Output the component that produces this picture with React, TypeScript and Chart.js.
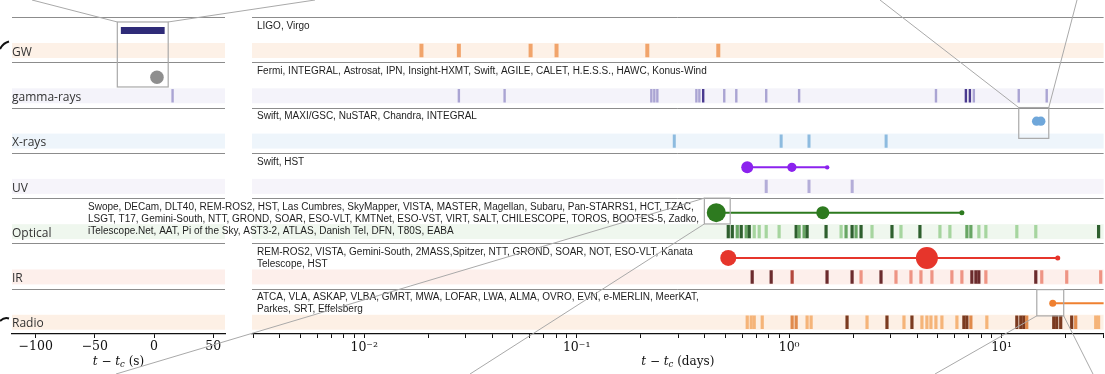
import React, { useEffect, useRef } from 'react';
import { Chart, registerables } from 'chart.js';

Chart.register(...registerables);

// ---------------- rows ----------------
const rowNames = ['GW', 'gamma-rays', 'X-rays', 'UV', 'Optical', 'IR', 'Radio'];
const rowInstruments: string[][] = [
  ['LIGO, Virgo'],
  ['Fermi, INTEGRAL, Astrosat, IPN, Insight-HXMT, Swift, AGILE, CALET, H.E.S.S., HAWC, Konus-Wind'],
  ['Swift, MAXI/GSC, NuSTAR, Chandra, INTEGRAL'],
  ['Swift, HST'],
  [
    'Swope, DECam, DLT40, REM-ROS2, HST, Las Cumbres, SkyMapper, VISTA, MASTER, Magellan, Subaru, Pan-STARRS1, HCT, TZAC,',
    'LSGT, T17, Gemini-South, NTT, GROND, SOAR, ESO-VLT, KMTNet, ESO-VST, VIRT, SALT, CHILESCOPE, TOROS, BOOTES-5, Zadko,',
    'iTelescope.Net, AAT, Pi of the Sky, AST3-2, ATLAS, Danish Tel, DFN, T80S, EABA',
  ],
  ['REM-ROS2, VISTA, Gemini-South, 2MASS,Spitzer, NTT, GROND, SOAR, NOT, ESO-VLT, Kanata', 'Telescope, HST'],
  ['ATCA, VLA, ASKAP, VLBA, GMRT, MWA, LOFAR, LWA, ALMA, OVRO, EVN, e-MERLIN, MeerKAT,', 'Parkes, SRT, Effelsberg'],
];
// horizontal start of each instrument block, relative to the right panel's left edge (px)
const rowTextShift = [5, 5, 5, 5, -164, 5, 5];
const bandColors = ['#fdf1e7', '#f4f3fa', '#eef5fb', '#f6f4fa', '#eff7ee', '#fdefeb', '#fdf0e5'];

// ---------------- observation epochs (days after t_c) & shade (0 light, 1 mid, 2 dark) ----------------
const gwDays = [0.0186, 0.0279, 0.0607, 0.0804, 0.215, 0.464];
const gwShade = [0, 0, 0, 0, 0, 0];

const gammaDays = [0.0279, 0.0458, 0.2246, 0.232, 0.2397, 0.366, 0.378, 0.394, 0.495, 0.564, 0.78, 1.114, 4.91, 6.79, 7.09, 7.4, 12.04, 16.3];
const gammaShade = [0, 0, 0, 0, 0, 0, 0, 2, 0, 0, 0, 0, 0, 2, 2, 0, 0, 0];

const xrayDays = [0.288, 0.917, 1.24, 2.86];
const xrayShade = [0, 0, 0, 0];

const uvDays = [0.78, 1.24, 1.98];
const uvShade = [0, 0, 0];

const optDays = [0.517, 0.54, 0.57, 0.595, 0.628, 0.649, 0.685, 0.723, 0.78, 0.897, 1.079, 1.114, 1.176, 1.215, 1.492, 1.756, 1.853, 1.978, 2.065, 2.18, 2.455, 3.048, 3.36, 4.126, 5.125, 5.709, 6.863, 7.166, 7.814, 8.43, 11.79, 14.48, 28.6];
const optShade = [2, 2, 1, 2, 1, 2, 0, 0, 0, 0, 2, 1, 1, 2, 2, 0, 1, 2, 1, 2, 0, 2, 0, 2, 0, 0, 1, 1, 0, 0, 0, 0, 2];

const irDays = [0.67, 0.823, 1.033, 1.508, 1.978, 2.18, 2.706, 3.183, 3.744, 4.172, 4.699, 5.834, 6.501, 7.244, 7.565, 7.814, 8.43, 14.48, 15.45, 20.25, 29.26];
const irShade = [2, 2, 1, 2, 2, 0, 2, 0, 0, 0, 0, 0, 0, 2, 2, 2, 0, 2, 0, 0, 0];

const radioDays = [0.635, 0.663, 0.685, 0.747, 1.033, 1.079, 1.215, 1.269, 1.873, 2.326, 2.887, 3.471, 3.784, 4.217, 4.45, 4.649, 4.907, 5.236, 6.16, 6.643, 6.863, 7.166, 8.52, 11.79, 12.31, 12.72, 13.13, 17.59, 18.17, 18.97, 21.37, 22.32, 27.72, 28.6];
const radioShade = [0, 0, 0, 0, 1, 1, 0, 0, 2, 0, 2, 0, 2, 0, 0, 0, 0, 0, 0, 2, 2, 1, 0, 2, 2, 2, 1, 2, 2, 2, 2, 1, 0, 0];

const markPalettes = [
  ['#f1a46b', '#f1a46b', '#f1a46b'],
  ['#aaa4d3', '#7d74ba', '#4a3a8f'],
  ['#8dbbdf', '#8dbbdf', '#8dbbdf'],
  ['#b4add8', '#b4add8', '#b4add8'],
  ['#a6d59f', '#68a664', '#2e5f2e'],
  ['#ee9484', '#b3473c', '#6b2b2d'],
  ['#f5b479', '#e08a4c', '#7b3a1f'],
];
const markWidths = [4, 2.4, 3, 3, 3.2, 3.2, 3.2];
const rowDays = [gwDays, gammaDays, xrayDays, uvDays, optDays, irDays, radioDays];
const rowShades = [gwShade, gammaShade, xrayShade, uvShade, optShade, irShade, radioShade];

// ---------------- light-curve style markers (days) ----------------
const uvMarkerDays = [0.635, 1.03, 1.51];
const uvMarkerSize = [6, 4.6, 2.2];
const optMarkerDays = [0.454, 1.44, 6.5];
const optMarkerSize = [9.5, 6.5, 2.5];
const irMarkerDays = [0.517, 4.45, 18.37];
const irMarkerSize = [8, 11, 2.5];
const radioMarkerDays = [17.4, 60];
const radioMarkerSize = [3.5, 0];
const xrayBlobDays = [14.6, 15.3];

// ---------------- left panel (seconds) ----------------
const gwSignalSec = [-28, 9];
const grbCircleSec = [2.5];
const gammaSec = [15.7];

// ---------------- axes ----------------
const DAY_MIN = 0.002965;
const DAY_MAX = 30.2;
const SEC_MIN = -120;
const SEC_MAX = 60;
const secTicks = [-100, -50, 0, 50];
const dayMajorTicks = [0.001, 0.01, 0.1, 1, 10];
const dayTickLabels = ['', '10\u207B\u00B2', '10\u207B\u00B9', '10\u2070', '10\u00B9'];

// inset boxes (data coordinates)
const leftInset = { x: [-31, 12], y: [0.11, 1.545] };
const xrayInset = { x: [12.04, 16.67], y: [2.0, 2.68] };
const optInset = { x: [0.399, 0.528], y: [4.0, 4.57] };
const radioInset = { x: [14.64, 19.6], y: [6.02, 6.6] };

const BAND_TOP = 0.575;
const BAND_BOTTOM = 0.905;
const MARK_Y = 0.74;
const MARKER_Y = 0.32;

const LINE_GREY = '#a9a9a9';

function markDatasets() {
  return rowDays.map((days, r) => ({
    type: 'scatter' as const,
    data: days.map((d) => ({ x: d, y: r + MARK_Y })),
    pointStyle: 'line',
    rotation: 90,
    pointRadius: 6.7,
    pointBorderWidth: markWidths[r],
    pointBorderColor: rowShades[r].map((s) => markPalettes[r][s]),
    pointBackgroundColor: rowShades[r].map((s) => markPalettes[r][s]),
  }));
}

function markerLine(days: number[], sizes: number[], row: number, color: string) {
  return {
    type: 'line' as const,
    data: days.map((d) => ({ x: d, y: row + MARKER_Y })),
    borderColor: color,
    borderWidth: 2,
    pointRadius: sizes,
    pointBackgroundColor: color,
    pointBorderWidth: 0,
    pointBorderColor: color,
    tension: 0,
  };
}

function drawBands(chart: any) {
  const { ctx, chartArea, scales } = chart;
  const y = scales.y;
  const { left, right } = chartArea;
  ctx.save();
  for (let i = 0; i < rowNames.length; i++) {
    const y1 = y.getPixelForValue(i + BAND_TOP);
    const y2 = y.getPixelForValue(i + BAND_BOTTOM);
    ctx.fillStyle = bandColors[i];
    ctx.fillRect(left, y1, right - left, y2 - y1);
  }
  ctx.strokeStyle = '#8c8c8c';
  ctx.lineWidth = 1;
  for (let i = 0; i < rowNames.length; i++) {
    const yy = Math.round(y.getPixelForValue(i)) + 0.5;
    ctx.beginPath();
    ctx.moveTo(left, yy);
    ctx.lineTo(right, yy);
    ctx.stroke();
  }
  ctx.restore();
}

function drawInstruments(chart: any) {
  const { ctx, chartArea, scales } = chart;
  const y = scales.y;
  ctx.save();
  ctx.fillStyle = '#1e1e1e';
  ctx.font = '10px "Liberation Sans", Arial, sans-serif';
  ctx.textBaseline = 'middle';
  ctx.textAlign = 'left';
  rowInstruments.forEach((lines, i) => {
    const top = y.getPixelForValue(i);
    lines.forEach((t, k) => ctx.fillText(t, chartArea.left + rowTextShift[i], top + 9 + k * 12));
  });
  ctx.restore();
}

function drawRowNames(chart: any) {
  const { ctx, chartArea, scales } = chart;
  const y = scales.y;
  ctx.save();
  ctx.fillStyle = '#333';
  ctx.font = '12px "Open Sans", sans-serif';
  ctx.textBaseline = 'middle';
  ctx.textAlign = 'left';
  rowNames.forEach((n, i) => ctx.fillText(n, chartArea.left, y.getPixelForValue(i + 0.78)));
  ctx.restore();
}

function drawAxisTitle(chart: any, unit: string) {
  const { ctx, chartArea } = chart;
  const cx = (chartArea.left + chartArea.right) / 2;
  const yy = 362;
  const parts: [string, string, number][] = [
    ['t', 'italic 12px "DejaVu Serif"', 0],
    [' \u2212 ', '12px "DejaVu Serif"', 0],
    ['t', 'italic 12px "DejaVu Serif"', 0],
    ['c', 'italic 8.5px "DejaVu Serif"', 3],
    [' (' + unit + ')', '12px "DejaVu Serif"', 0],
  ];
  ctx.save();
  ctx.fillStyle = '#111';
  ctx.textBaseline = 'middle';
  ctx.textAlign = 'left';
  let w = 0;
  parts.forEach(([t, f]) => {
    ctx.font = f;
    w += ctx.measureText(t).width;
  });
  let x = cx - w / 2;
  parts.forEach(([t, f, dy]) => {
    ctx.font = f;
    ctx.fillText(t, x, yy + dy);
    x += ctx.measureText(t).width;
  });
  ctx.restore();
}

function drawInset(chart: any, box: { x: number[]; y: number[] }, links: [number, number, number][]) {
  const { ctx, scales } = chart;
  const x1 = scales.x.getPixelForValue(box.x[0]);
  const x2 = scales.x.getPixelForValue(box.x[1]);
  const y1 = scales.y.getPixelForValue(box.y[0]);
  const y2 = scales.y.getPixelForValue(box.y[1]);
  const corners = [
    [x1, y1],
    [x2, y1],
    [x1, y2],
    [x2, y2],
  ];
  ctx.save();
  ctx.strokeStyle = LINE_GREY;
  ctx.lineWidth = 1.2;
  ctx.strokeRect(x1, y1, x2 - x1, y2 - y1);
  ctx.lineWidth = 1;
  links.forEach(([c, tx, ty]) => {
    const [cx, cy] = corners[c];
    ctx.beginPath();
    ctx.moveTo(cx, cy);
    ctx.lineTo(tx, ty);
    ctx.stroke();
  });
  ctx.restore();
}

function tickStyle() {
  return {
    display: true,
    drawOnChartArea: false,
    drawTicks: true,
    tickLength: 4,
    tickColor: '#111',
    tickWidth: 1,
  };
}

function rightConfig(): any {
  return {
    data: {
      datasets: [
        ...markDatasets(),
        markerLine(uvMarkerDays, uvMarkerSize, 3, '#8b22ee'),
        markerLine(optMarkerDays, optMarkerSize, 4, '#2d7a1f'),
        markerLine(irMarkerDays, irMarkerSize, 5, '#e6352b'),
        markerLine(radioMarkerDays, radioMarkerSize, 6, '#ef8030'),
        {
          type: 'scatter',
          data: xrayBlobDays.map((d) => ({ x: d, y: 2.3 })),
          pointRadius: 4.6,
          pointBackgroundColor: '#6fa7da',
          pointBorderWidth: 0,
        },
      ],
    },
    options: {
      responsive: false,
      animation: false,
      events: [],
      layout: { autoPadding: false, padding: { left: 252, right: 0, top: 17, bottom: 0 } },
      plugins: { legend: { display: false }, tooltip: { enabled: false } },
      scales: {
        x: {
          type: 'logarithmic',
          min: DAY_MIN,
          max: DAY_MAX,
          afterBuildTicks: (scale: any) => {
            const t: any[] = [];
            dayMajorTicks.forEach((base) => {
              for (let m = 1; m <= 9; m++) {
                const v = m * base;
                if (v >= DAY_MIN && v <= DAY_MAX) t.push({ value: v, major: m === 1 });
              }
            });
            scale.ticks = t;
          },
          afterFit: (scale: any) => {
            scale.height = 40;
          },
          grid: tickStyle(),
          border: { display: true, color: '#111', width: 1.2 },
          ticks: {
            autoSkip: false,
            maxRotation: 0,
            padding: 2,
            color: '#111',
            font: { family: '"DejaVu Serif"', size: 12.5 },
            callback: (v: number) => {
              const idx = dayMajorTicks.findIndex((m) => Math.abs(m - v) / m < 1e-6);
              return idx >= 0 ? dayTickLabels[idx] : '';
            },
          },
        },
        y: { type: 'linear', min: 0, max: 7, reverse: true, display: false },
      },
    },
    plugins: [
      {
        id: 'rightDecor',
        beforeDatasetsDraw(chart: any) {
          drawBands(chart);
          drawInstruments(chart);
        },
        afterDraw(chart: any) {
          drawInset(chart, xrayInset, [
            [0, 880, 0],
            [1, 1077, 0],
          ]);
          drawInset(chart, optInset, [
            [0, 116, 374],
            [2, 470, 374],
          ]);
          drawInset(chart, radioInset, [
            [2, 935, 374],
            [3, 1093, 374],
          ]);
          drawAxisTitle(chart, 'days');
        },
      },
    ],
  };
}

function leftConfig(): any {
  return {
    data: {
      datasets: [
        {
          type: 'line',
          data: gwSignalSec.map((s) => ({ x: s, y: MARKER_Y - 0.02 })),
          borderColor: '#2f2b78',
          borderWidth: 7,
          borderCapStyle: 'butt',
          pointRadius: 0,
        },
        {
          type: 'scatter',
          data: grbCircleSec.map((s) => ({ x: s, y: 1 + 0.33 })),
          pointRadius: 6.8,
          pointBackgroundColor: '#8e8e8e',
          pointBorderWidth: 0,
        },
        {
          type: 'scatter',
          data: gammaSec.map((s) => ({ x: s, y: 1 + MARK_Y })),
          pointStyle: 'line',
          rotation: 90,
          pointRadius: 6.7,
          pointBorderWidth: 2.4,
          pointBorderColor: markPalettes[1][0],
        },
      ],
    },
    options: {
      responsive: false,
      animation: false,
      events: [],
      layout: { autoPadding: false, padding: { left: 12, right: 1105 - 225, top: 17, bottom: 0 } },
      plugins: { legend: { display: false }, tooltip: { enabled: false } },
      scales: {
        x: {
          type: 'linear',
          min: SEC_MIN,
          max: SEC_MAX,
          afterBuildTicks: (scale: any) => {
            scale.ticks = secTicks.map((v) => ({ value: v }));
          },
          afterFit: (scale: any) => {
            scale.height = 40;
          },
          grid: tickStyle(),
          border: { display: true, color: '#111', width: 1.2 },
          ticks: {
            autoSkip: false,
            maxRotation: 0,
            padding: 1,
            color: '#111',
            font: { family: '"DejaVu Serif"', size: 12.5 },
            callback: (v: number) => (v < 0 ? '\u2212' + Math.abs(v) : String(v)),
          },
        },
        y: { type: 'linear', min: 0, max: 7, reverse: true, display: false },
      },
    },
    plugins: [
      {
        id: 'leftDecor',
        beforeDatasetsDraw(chart: any) {
          drawBands(chart);
          drawRowNames(chart);
        },
        afterDraw(chart: any) {
          drawInset(chart, leftInset, [
            [0, 32, 0],
            [1, 315, 0],
          ]);
          drawAxisTitle(chart, 's');
          const { ctx } = chart;
          ctx.save();
          ctx.strokeStyle = '#111';
          ctx.lineWidth = 2;
          ctx.beginPath();
          ctx.moveTo(0, 49);
          ctx.quadraticCurveTo(3, 43, 9, 41.5);
          ctx.stroke();
          ctx.beginPath();
          ctx.moveTo(0, 321);
          ctx.quadraticCurveTo(4, 317, 9, 318.5);
          ctx.stroke();
          ctx.restore();
        },
      },
    ],
  };
}

export default function App() {
  const rightRef = useRef<HTMLCanvasElement>(null);
  const leftRef = useRef<HTMLCanvasElement>(null);
  useEffect(() => {
    const l = new Chart(leftRef.current as HTMLCanvasElement, leftConfig());
    const r = new Chart(rightRef.current as HTMLCanvasElement, rightConfig());
    return () => {
      r.destroy();
      l.destroy();
    };
  }, []);
  const cs: React.CSSProperties = { position: 'absolute', left: 0, top: 0, width: 1105, height: 374 };
  return (
    <div style={{ position: 'absolute', left: 0, top: 0, width: 1105, height: 374, background: '#fff', overflow: 'hidden' }}>
      <canvas ref={leftRef} width={1105} height={374} style={cs} />
      <canvas ref={rightRef} width={1105} height={374} style={cs} />
    </div>
  );
}
